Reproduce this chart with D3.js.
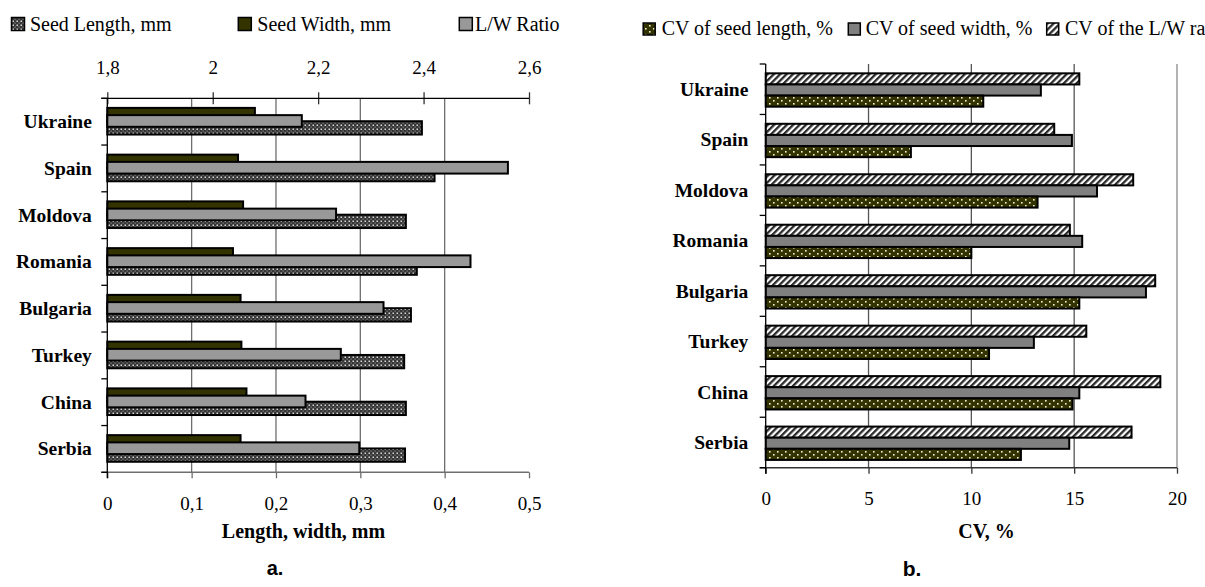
<!DOCTYPE html>
<html>
<head>
<meta charset="utf-8">
<script src="https://cdn.jsdelivr.net/npm/d3@7"></script>
<style>
  html, body { margin: 0; padding: 0; background: #fff; }
  svg { display: block; }
  text { font-family: "Liberation Serif", "Times New Roman", serif; fill: #000; }
</style>
</head>
<body>
<svg id="chart" width="1205" height="587"></svg>
<script>
// ---------------- DATA ----------------
const categories = ["Ukraine", "Spain", "Moldova", "Romania", "Bulgaria", "Turkey", "China", "Serbia"];

// Panel a
const seedLength = [0.373, 0.388, 0.354, 0.367, 0.360, 0.352, 0.354, 0.353];   // mm, bottom axis
const seedWidth  = [0.175, 0.155, 0.161, 0.149, 0.158, 0.159, 0.165, 0.158];   // mm, bottom axis
const lwRatio    = [2.169, 2.560, 2.234, 2.489, 2.324, 2.243, 2.176, 2.278];   // top axis
const ticksBottomA = [0, 0.1, 0.2, 0.3, 0.4, 0.5];
const ticksTopA    = [1.8, 2.0, 2.2, 2.4, 2.6];
const legendA = ["Seed Length, mm", "Seed Width, mm", "L/W Ratio"];

// Panel b
const cvLength = [10.58, 7.06, 13.22, 10.00, 15.25, 10.86, 14.92, 12.41];
const cvWidth  = [13.38, 14.89, 16.11, 15.39, 18.49, 13.04, 15.25, 14.76];
const cvLW     = [15.25, 14.03, 17.87, 14.79, 18.94, 15.59, 19.19, 17.79];
const ticksB = [0, 5, 10, 15, 20];
const legendB = ["CV of seed length, %", "CV of seed width, %", "CV of the L/W ratio, %"];

// ---------------- SETUP ----------------
const svg = d3.select("#chart");
const fmt = d => String(d).replace(".", ",");

const defs = svg.append("defs");
// dotted dark grey (seed length, panel a)
const p1 = defs.append("pattern").attr("id", "patLen").attr("patternUnits", "userSpaceOnUse")
  .attr("width", 4).attr("height", 4);
p1.append("rect").attr("width", 4).attr("height", 4).attr("fill", "#363636");
p1.append("rect").attr("x", 0.5).attr("y", 0.5).attr("width", 1.5).attr("height", 1.5).attr("fill", "#d8d8d8");
p1.append("rect").attr("x", 2.5).attr("y", 2.5).attr("width", 1.2).attr("height", 1.2).attr("fill", "#8a8a8a");
// olive dotted (CV length, panel b)
const p2 = defs.append("pattern").attr("id", "patOlive").attr("patternUnits", "userSpaceOnUse")
  .attr("width", 8).attr("height", 6);
p2.append("rect").attr("width", 8).attr("height", 6).attr("fill", "#333300");
p2.append("rect").attr("x", 1).attr("y", 1).attr("width", 1.6).attr("height", 1.6).attr("fill", "#f0f0d8");
p2.append("rect").attr("x", 5).attr("y", 4).attr("width", 1.6).attr("height", 1.6).attr("fill", "#f0f0d8");
// diagonal hatch (CV L/W, panel b)
const p3 = defs.append("pattern").attr("id", "patHatch").attr("patternUnits", "userSpaceOnUse")
  .attr("width", 4.5).attr("height", 4.5).attr("patternTransform", "rotate(45)");
p3.append("rect").attr("width", 4.5).attr("height", 4.5).attr("fill", "#ffffff");
p3.append("rect").attr("width", 2.3).attr("height", 4.5).attr("fill", "#2a2a2a");

const COL_WIDTH = "#333300";
const COL_LW = "#999999";
const COL_CVW = "#808080";

// ================= PANEL A =================
const A = { left: 107.3, right: 529, top: 98.3, bottom: 472.3 };
const xA = d3.scaleLinear().domain([0, 0.5]).range([A.left, A.right]);
const xTopA = d3.scaleLinear().domain([1.8, 2.6]).range([A.left, A.right]);
const yA = d3.scaleBand().domain(categories).range([A.top, A.bottom]);
const bwA = yA.bandwidth();
const ySubA = d3.scaleBand().domain(["width", "length"]).range([bwA * 0.205, bwA * 0.775]);

const gA = svg.append("g");

// gridlines
gA.selectAll("line.grid").data(ticksBottomA.filter(d => d > 0 && d < 0.5)).enter().append("line")
  .attr("x1", d => xA(d)).attr("x2", d => xA(d)).attr("y1", A.top).attr("y2", A.bottom)
  .attr("stroke", "#6e6e6e").attr("stroke-width", 1.3);

// bars: length (bottom), width (top), then L/W on top
const rowsA = categories.map((c, i) => ({ c, len: seedLength[i], wid: seedWidth[i], lw: lwRatio[i] }));
gA.selectAll("rect.len").data(rowsA).enter().append("rect")
  .attr("x", xA(0)).attr("y", d => yA(d.c) + ySubA("length"))
  .attr("width", d => xA(d.len) - xA(0)).attr("height", ySubA.bandwidth())
  .attr("fill", "url(#patLen)").attr("stroke", "#000").attr("stroke-width", 2);
gA.selectAll("rect.wid").data(rowsA).enter().append("rect")
  .attr("x", xA(0)).attr("y", d => yA(d.c) + ySubA("width"))
  .attr("width", d => xA(d.wid) - xA(0)).attr("height", ySubA.bandwidth())
  .attr("fill", COL_WIDTH).attr("stroke", "#000").attr("stroke-width", 2);
const lwH = bwA * 0.25;
gA.selectAll("rect.lw").data(rowsA).enter().append("rect")
  .attr("x", xTopA(1.8)).attr("y", d => yA(d.c) + bwA * 0.485 - lwH / 2)
  .attr("width", d => xTopA(d.lw) - xTopA(1.8)).attr("height", lwH)
  .attr("fill", COL_LW).attr("stroke", "#000").attr("stroke-width", 2);

// bottom axis
const axB = gA.append("g").attr("transform", `translate(0,${A.bottom})`)
  .call(d3.axisBottom(xA).tickValues(ticksBottomA).tickFormat(fmt).tickSize(6).tickPadding(18).tickSizeOuter(0));
axB.select(".domain").remove();
axB.selectAll("line").attr("stroke", "#6e6e6e").attr("stroke-width", 1.3);
axB.selectAll("text").style("font-family", "Liberation Serif").style("font-size", "19px").attr("fill", "#000");
gA.append("line").attr("x1", A.left - 6).attr("x2", A.right).attr("y1", A.bottom).attr("y2", A.bottom)
  .attr("stroke", "#6e6e6e").attr("stroke-width", 1.5);

// top axis
const axT = gA.append("g").attr("transform", `translate(0,${A.top})`)
  .call(d3.axisTop(xTopA).tickValues(ticksTopA).tickFormat(fmt).tickSize(6).tickPadding(18).tickSizeOuter(0));
axT.select(".domain").remove();
axT.selectAll("line").attr("y1", 6).attr("y2", -6).attr("stroke", "#333").attr("stroke-width", 1.3);
axT.selectAll("text").style("font-family", "Liberation Serif").style("font-size", "19px").attr("fill", "#000");
gA.append("line").attr("x1", A.left - 6).attr("x2", A.right).attr("y1", A.top).attr("y2", A.top)
  .attr("stroke", "#000").attr("stroke-width", 1.3);

// left axis
gA.append("line").attr("x1", A.left).attr("x2", A.left).attr("y1", A.top).attr("y2", A.bottom + 6)
  .attr("stroke", "#000").attr("stroke-width", 1.3);
const bndA = categories.map(c => yA(c)).concat([yA(categories[categories.length - 1]) + yA.step()]);
gA.selectAll("line.ctick").data(bndA).enter().append("line")
  .attr("x1", A.left - 6).attr("x2", A.left).attr("y1", d => d).attr("y2", d => d)
  .attr("stroke", "#000").attr("stroke-width", 1.3);
gA.selectAll("text.cat").data(categories).enter().append("text")
  .attr("x", 91.8).attr("y", d => yA(d) + bwA / 2 + 6.5)
  .attr("text-anchor", "end").style("font-size", "19.5px").style("font-weight", "bold").text(d => d);

// axis title
gA.append("text").attr("x", 303.5).attr("y", 538).attr("text-anchor", "middle")
  .style("font-size", "20px").style("font-weight", "bold").text("Length, width, mm");
gA.append("text").attr("x", 275).attr("y", 575).attr("text-anchor", "middle")
  .style("font-family", "Liberation Sans, Arial, sans-serif").style("font-size", "20px").style("font-weight", "bold").text("a.");

// legend A
const legA = [
  { x: 11.5, tx: 29.9, fill: "url(#patLen)", label: legendA[0] },
  { x: 238.3, tx: 257.3, fill: COL_WIDTH, label: legendA[1] },
  { x: 459.3, tx: 475, fill: COL_LW, label: legendA[2] }
];
const lgA = gA.selectAll("g.leg").data(legA).enter().append("g");
lgA.append("rect").attr("x", d => d.x).attr("y", 17.5).attr("width", 13).attr("height", 13)
  .attr("fill", d => d.fill).attr("stroke", "#000").attr("stroke-width", 1.5);
lgA.append("text").attr("x", d => d.tx).attr("y", 31).style("font-size", "20px").text(d => d.label);

// ================= PANEL B =================
const B = { left: 765.7, right: 1177, top: 64, bottom: 467.7 };
const xB = d3.scaleLinear().domain([0, 20]).range([B.left, B.right]);
const yB = d3.scaleBand().domain(categories).range([B.top, B.bottom]);
const bwB = yB.bandwidth();
const ySubB = d3.scaleBand().domain(["lw", "width", "length"]).range([bwB * 0.185, bwB * 0.846]);

const gB = svg.append("g");
gB.selectAll("line.grid").data(ticksB.filter(d => d > 0)).enter().append("line")
  .attr("x1", d => xB(d)).attr("x2", d => xB(d)).attr("y1", B.top).attr("y2", B.bottom)
  .attr("stroke", (d, i, a) => i === a.length - 1 ? "#8a8a8a" : "#555").attr("stroke-width", 1.3);

const rowsB = categories.map((c, i) => ({ c, len: cvLength[i], wid: cvWidth[i], lw: cvLW[i] }));
const seriesB = [
  { key: "lw", fill: "url(#patHatch)", get: d => d.lw },
  { key: "width", fill: COL_CVW, get: d => d.wid },
  { key: "length", fill: "url(#patOlive)", get: d => d.len }
];
seriesB.forEach(s => {
  gB.selectAll("rect.b-" + s.key).data(rowsB).enter().append("rect")
    .attr("x", xB(0)).attr("y", d => yB(d.c) + ySubB(s.key))
    .attr("width", d => xB(s.get(d)) - xB(0)).attr("height", ySubB.bandwidth())
    .attr("fill", s.fill).attr("stroke", "#000").attr("stroke-width", 2);
});

const axBB = gB.append("g").attr("transform", `translate(0,${B.bottom})`)
  .call(d3.axisBottom(xB).tickValues(ticksB).tickSize(6).tickPadding(18).tickSizeOuter(0));
axBB.select(".domain").remove();
axBB.selectAll("line").attr("stroke", "#333").attr("stroke-width", 1.3);
axBB.selectAll("text").style("font-family", "Liberation Serif").style("font-size", "19px").attr("fill", "#000");
gB.append("line").attr("x1", B.left - 6).attr("x2", B.right).attr("y1", B.bottom).attr("y2", B.bottom)
  .attr("stroke", "#333").attr("stroke-width", 1.5);
gB.append("line").attr("x1", B.left).attr("x2", B.left).attr("y1", B.top).attr("y2", B.bottom + 6)
  .attr("stroke", "#000").attr("stroke-width", 1.3);
const bndB = categories.map(c => yB(c)).concat([yB(categories[categories.length - 1]) + yB.step()]);
gB.selectAll("line.ctick").data(bndB).enter().append("line")
  .attr("x1", B.left - 6).attr("x2", B.left).attr("y1", d => d).attr("y2", d => d)
  .attr("stroke", "#000").attr("stroke-width", 1.3);
gB.selectAll("text.cat").data(categories).enter().append("text")
  .attr("x", 748.3).attr("y", d => yB(d) + bwB / 2 + 6.5)
  .attr("text-anchor", "end").style("font-size", "19.5px").style("font-weight", "bold").text(d => d);

gB.append("text").attr("x", 986.5).attr("y", 538).attr("text-anchor", "middle")
  .style("font-size", "20px").style("font-weight", "bold").text("CV, %");
gB.append("text").attr("x", 912).attr("y", 576).attr("text-anchor", "middle")
  .style("font-family", "Liberation Sans, Arial, sans-serif").style("font-size", "21px").style("font-weight", "bold").text("b.");

const legB = [
  { x: 643.2, tx: 661.7, fill: "url(#patOlive)", label: legendB[0] },
  { x: 848.3, tx: 865.7, fill: COL_CVW, label: legendB[1] },
  { x: 1046.7, tx: 1065, fill: "url(#patHatch)", label: legendB[2] }
];
const lgB = gB.selectAll("g.leg").data(legB).enter().append("g");
lgB.append("rect").attr("x", d => d.x).attr("y", 23).attr("width", 12).attr("height", 12)
  .attr("fill", d => d.fill).attr("stroke", "#000").attr("stroke-width", 1.5);
lgB.append("text").attr("x", d => d.tx).attr("y", 34.5).style("font-size", "20px").text(d => d.label);
</script>
</body>
</html>
